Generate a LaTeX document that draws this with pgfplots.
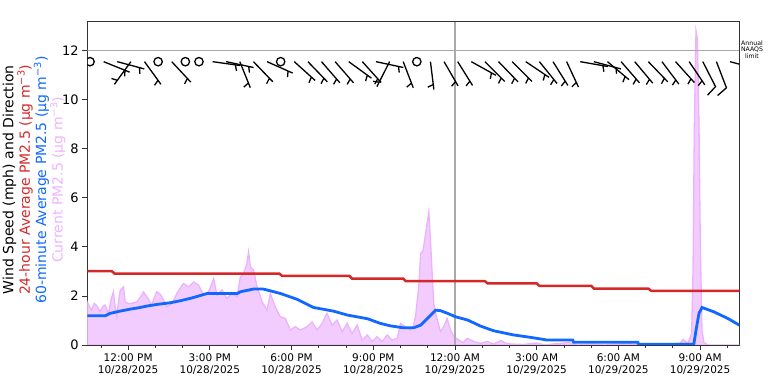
\documentclass[border=0pt]{standalone}
\usepackage{pgfplots}
\pgfplotsset{compat=1.18}
\usepackage{fontspec}
\setmainfont{DejaVu Sans}
\definecolor{redline}{RGB}{214,39,40}
\definecolor{blueline}{RGB}{16,104,255}
\definecolor{pinkfill}{RGB}{243,204,255}
\definecolor{pinkline}{RGB}{236,178,252}
\definecolor{pinktext}{RGB}{238,180,255}
\definecolor{refgrey}{RGB}{170,170,170}
\pgfdeclareplotmark{halfbarb}{%
  \pgfpathmoveto{\pgfqpoint{0pt}{0pt}}%
  \pgfpathlineto{\pgfqpoint{28pt}{0pt}}%
  \pgfpathmoveto{\pgfqpoint{23pt}{0pt}}%
  \pgfpathlineto{\pgfqpoint{25pt}{-5.8pt}}%
  \pgfusepathqstroke}
\pgfdeclareplotmark{fullbarb}{%
  \pgfpathmoveto{\pgfqpoint{0pt}{0pt}}%
  \pgfpathlineto{\pgfqpoint{28pt}{0pt}}%
  \pgfpathlineto{\pgfqpoint{32pt}{-11pt}}%
  \pgfusepathqstroke}
\pgfdeclareplotmark{calm}{%
  \pgfpathcircle{\pgfpointorigin}{4.2pt}%
  \pgfusepathqstroke}

\pgfplotstableread{
t v
-1.5 1.76
-1.42 1.55
-1.34 1.42
-1.25 1.7
-1.15 1.6
-1.03 1.36
-0.94 1.55
-0.85 1.63
-0.72 1.29
-0.62 1.9
-0.54 2.17
-0.48 1.6
-0.42 1.16
-0.35 1.8
-0.29 2.24
-0.17 2.37
-0.11 1.76
0.0 1.7
0.07 1.69
0.2 1.72
0.32 1.76
0.45 1.95
0.56 2.17
0.69 1.96
0.87 1.63
0.95 1.9
1.05 2.17
1.15 2.1
1.24 1.96
1.42 1.56
1.61 1.69
1.79 2.1
1.9 2.3
2.03 2.51
2.22 2.37
2.40 2.57
2.59 2.44
2.77 2.03
2.95 2.17
3.05 2.45
3.14 2.71
3.26 2.03
3.44 2.24
3.63 1.9
3.81 2.1
4.00 1.96
4.12 2.78
4.24 2.91
4.36 3.32
4.42 3.79
4.49 3.18
4.61 3.05
4.73 2.37
4.92 1.76
5.10 1.42
5.22 2.1
5.40 1.56
5.59 1.15
5.77 1.08
5.96 0.61
6.14 0.75
6.32 0.61
6.57 0.75
6.75 0.95
6.94 0.61
7.12 0.88
7.30 1.29
7.49 0.81
7.67 1.02
7.86 0.54
8.04 0.88
8.22 0.47
8.41 0.81
8.59 0.2
8.78 0.41
8.96 0.14
9.14 0.34
9.33 0.14
9.51 0.41
9.69 0.2
9.88 0.27
10.0 0.88
10.18 0.75
10.37 0.61
10.47 0.75
10.55 1.15
10.67 2.37
10.74 3.73
10.83 3.86
10.92 4.54
11.04 5.42
11.10 4.27
11.17 2.78
11.22 1.69
11.35 1.02
11.47 0.54
11.59 0.75
11.71 1.08
11.84 0.61
11.96 0.34
12.14 0.2
12.30 0.1
12.45 0.27
12.69 0.14
12.94 0.07
13.19 0.14
13.42 0.04
13.68 0.18
13.92 0.05
14.5 0.02
15.0 0.08
15.3 0.0
15.5 0.03
16.2 0.1
16.5 0.0
17.0 0.03
17.5 0.0
18.2 0.05
18.3 0.14
18.5 0.02
19.0 0.0
19.5 0.02
20.27 0.07
20.38 0.23
20.55 0.07
20.69 0.47
20.74 3
20.79 9
20.85 12.8
20.90 12.5
20.96 9
21.01 4
21.07 0.6
21.14 0.1
21.3 0
22.44 0
}\currentpm

\pgfplotstableread{
t v
-1.5 1.19
-0.85 1.19
-0.66 1.29
-0.3 1.38
0.07 1.46
0.4 1.52
0.70 1.59
1.1 1.66
1.54 1.72
1.9 1.80
2.28 1.90
2.6 2.0
2.90 2.10
4.01 2.10
4.12 2.17
4.60 2.28
4.96 2.28
5.25 2.2
5.59 2.10
6.21 1.86
6.80 1.53
7.2 1.45
7.54 1.38
8.05 1.22
8.79 1.07
9.26 0.88
9.63 0.78
10.11 0.70
10.48 0.70
10.74 0.81
10.99 1.08
11.29 1.42
11.47 1.40
11.73 1.29
12.02 1.15
12.46 1.02
12.94 0.77
13.42 0.58
14.15 0.41
14.78 0.31
15.40 0.20
16.32 0.20
16.36 0.11
18.71 0.11
18.75 0.03
20.77 0.03
20.85 0.6
20.96 1.29
21.07 1.53
21.51 1.35
22.02 1.08
22.44 0.81
}\hourpm

\pgfplotstableread{
t v
-1.5 3.01
-0.6 3.01
-0.5 2.91
5.55 2.91
5.65 2.82
8.12 2.82
8.22 2.71
10.1 2.71
10.2 2.60
13.1 2.60
13.2 2.51
15.0 2.51
15.1 2.41
17.0 2.41
17.1 2.30
19.1 2.30
19.2 2.21
22.44 2.21
}\daypm

\pgfplotstableread{
t y a
-0.9 11.55 -22
-0.4 11.55 -15
0.1 11.55 -126
0.6 11.55 -54
1.6 11.55 -47
3.1 11.55 -8
3.6 11.55 -12
4.1 11.55 -68
4.6 11.55 -46
5.1 11.55 -24
6.1 11.55 -42
6.6 11.55 -46
7.1 11.55 -49
7.6 11.55 -49
8.1 11.55 -36
8.6 11.55 -48
9.1 11.55 -12
9.6 11.55 -117
10.1 11.55 -69
11.1 11.55 -83
11.6 11.55 -60
12.1 11.55 -58
12.6 11.55 -29
13.1 11.55 -45
13.6 11.55 -46
14.1 11.55 -45
14.6 11.55 -34
15.1 11.55 -51
15.6 11.55 -58
16.1 11.55 -65
16.6 11.55 -10
17.1 11.55 -15
17.6 11.55 -40
18.1 11.55 -49
18.6 11.55 -50
19.1 11.55 -46
19.6 11.55 -53
20.1 11.55 -48
20.6 11.55 -56
22.1 11.55 -15
}\halfbarbs

\pgfplotstableread{
t y a
21.1 11.55 -63
21.6 11.55 -69
}\fullbarbs

\pgfplotstableread{
t y
-1.4 11.55
1.1 11.55
2.1 11.55
2.6 11.55
5.6 11.55
10.6 11.55
}\calmpts

\begin{document}
\begin{tikzpicture}
\begin{axis}[
  name=ax,
  scale only axis,
  width=652pt, height=323.3pt,
  xmin=-1.5, xmax=22.44, ymin=0, ymax=13.18,
  xtick={0,3,...,21},
  minor xtick={-1,1,2,4,5,7,8,10,11,13,14,16,17,19,20,22},
  xticklabels={{12:00 PM\\10/28/2025},{3:00 PM\\10/28/2025},{6:00 PM\\10/28/2025},{9:00 PM\\10/28/2025},{12:00 AM\\10/29/2025},{3:00 AM\\10/29/2025},{6:00 AM\\10/29/2025},{9:00 AM\\10/29/2025}},
  xticklabel style={align=center, font=\fontsize{10.5}{12.6}\selectfont},
  ytick={0,2,...,12},
  yticklabel style={font=\fontsize{13}{15}\selectfont},
  /pgf/number format/assume math mode=true,
  tick pos=left, tick align=outside,
  major tick length=5pt, minor tick length=3pt,
  axis line style={black!80, line width=0.8pt},
  every tick/.style={black!80, line width=0.8pt},
  clip mode=individual,
]
\addplot[draw=pinkline, line width=1.3pt, fill=pinkfill] table[x=t,y=v] {\currentpm} \closedcycle;
\addplot[refgrey, line width=1.5pt] coordinates {(-1.5,12) (22.44,12)};
\addplot[refgrey, line width=1.5pt] coordinates {(12,0) (12,13.18)};
\addplot[redline, line width=2.5pt] table[x=t,y=v] {\daypm};
\addplot[blueline, line width=2.8pt] table[x=t,y=v] {\hourpm};
\addplot[scatter, only marks, mark=halfbarb, clip marker paths=true,
  line width=1.3pt, mark options={line width=1.3pt},
  scatter/use mapped color={draw=black, fill=black},
  visualization depends on={\thisrow{a} \as \barbang},
  scatter/@pre marker code/.append style={/tikz/rotate=\barbang}]
  table[x=t,y=y] {\halfbarbs};
\addplot[scatter, only marks, mark=fullbarb, clip marker paths=true,
  line width=1.3pt, mark options={line width=1.3pt},
  scatter/use mapped color={draw=black, fill=black},
  visualization depends on={\thisrow{a} \as \barbang},
  scatter/@pre marker code/.append style={/tikz/rotate=\barbang}]
  table[x=t,y=y] {\fullbarbs};
\addplot[only marks, mark=calm, clip marker paths=true, black,
  line width=1.3pt, mark options={line width=1.3pt}]
  table[x=t,y=y] {\calmpts};
\node[font=\fontsize{6.2}{6.6}\selectfont, align=center] at (axis description cs:1.0195,0.914) {Annual\\NAAQS\\limit};
\node[rotate=90, align=center, font=\fontsize{14}{15}\selectfont] at (axis description cs:-0.0815,0.511)
  {Wind Speed (mph) and Direction\\
   \textcolor{redline}{24-hour Average PM2.5 (μg m\textsuperscript{−3})}\\
   \textcolor{blueline}{60-minute Average PM2.5 (μg m\textsuperscript{−3})}\\
   \textcolor{pinktext}{Current PM2.5 (μg m\textsuperscript{−3})}};
\end{axis}
\pgfresetboundingbox
\path[use as bounding box] ([xshift=-87.3pt,yshift=-34pt]ax.south west) rectangle ([xshift=34.7pt,yshift=21.7pt]ax.north east);
\end{tikzpicture}
\end{document}
